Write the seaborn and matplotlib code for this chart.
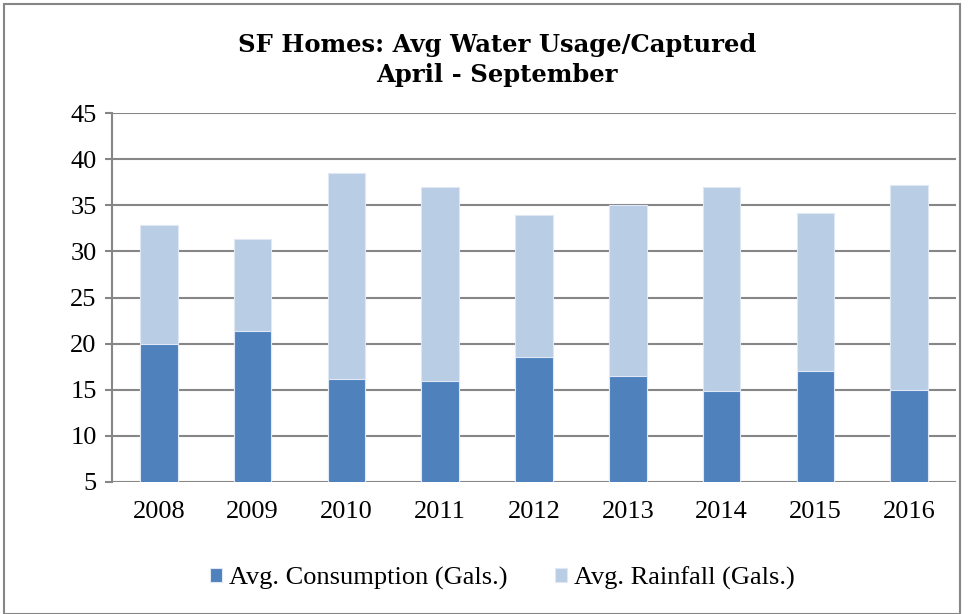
import matplotlib
matplotlib.use('Agg')
import pandas as pd
import seaborn as sns
import matplotlib.pyplot as plt
from matplotlib.patches import Rectangle

years = ['2008', '2009', '2010', '2011', '2012', '2013', '2014', '2015', '2016']
consumption = [20.0, 21.4, 16.2, 16.0, 18.6, 16.5, 14.9, 17.0, 15.0]
rainfall = [12.9, 9.9, 22.3, 21.0, 15.3, 18.5, 22.1, 17.2, 22.2]
yticks = [5, 10, 15, 20, 25, 30, 35, 40, 45]

if __name__ == '__main__':
    sns.set_theme(style='white')
    plt.rcParams['font.family'] = ['Liberation Serif', 'DejaVu Serif']
    plt.rcParams['text.color'] = 'black'

    data = pd.DataFrame({'Year': years, 'Consumption': consumption, 'Rainfall': rainfall})
    data['Total'] = data['Consumption'] + data['Rainfall']

    dark = '#4F81BD'
    light = '#B9CDE5'
    grey = '#868686'

    fig = plt.figure(figsize=(9.74, 6.14), dpi=100)
    ax = fig.add_axes([112 / 974, 132 / 614, 844 / 974, 369 / 614])

    # rainfall stacked on top of consumption: draw totals first, then consumption over it
    sns.barplot(data=data, x='Year', y='Total', color=light, saturation=1, width=0.4, ax=ax,
                edgecolor='#dfe8f4', linewidth=0.8, label='Avg. Rainfall (Gals.)', zorder=3)
    sns.barplot(data=data, x='Year', y='Consumption', color=dark, saturation=1, width=0.4, ax=ax,
                edgecolor='#dfe8f4', linewidth=0.8, label='Avg. Consumption (Gals.)', zorder=3)

    ax.set_ylim(5, 45)
    ax.set_xlim(-0.5, len(years) - 0.5)
    ax.set_yticks(yticks)
    ax.yaxis.grid(True, color=grey, linewidth=1.5, zorder=0)
    ax.set_axisbelow(True)
    ax.set_xlabel('')
    ax.set_ylabel('')
    for s in ['top', 'right', 'bottom']:
        ax.spines[s].set_visible(False)
    ax.spines['left'].set_color(grey)
    ax.spines['left'].set_linewidth(1.5)
    ax.tick_params(axis='y', which='major', left=True, length=5, width=1.5, color=grey,
                   labelsize=19, pad=6, labelcolor='black')
    ax.tick_params(axis='x', bottom=False, labelsize=19, pad=8, labelcolor='black')

    fig.text(0.510, 0.902, 'SF Homes: Avg Water Usage/Captured\nApril - September',
             ha='center', va='center', fontsize=17.5, fontweight='bold', color='black',
             family=['DejaVu Serif'], linespacing=1.3)

    handles, labels = ax.get_legend_handles_labels()
    order = [labels.index('Avg. Consumption (Gals.)'), labels.index('Avg. Rainfall (Gals.)')]
    ax.legend([handles[i] for i in order], [labels[i] for i in order],
              loc='center', bbox_to_anchor=(0.516, 0.0586), bbox_transform=fig.transFigure,
              ncol=2, frameon=False, fontsize=19, handlelength=0.45, handleheight=0.45,
              handletextpad=0.27, columnspacing=1.8)

    fig.patches.append(Rectangle((4 / 974, 0), 956 / 974, 610 / 614, transform=fig.transFigure,
                                 fill=False, edgecolor=grey, linewidth=1.5))

    fig.savefig('out.png', dpi=100, facecolor='white')
